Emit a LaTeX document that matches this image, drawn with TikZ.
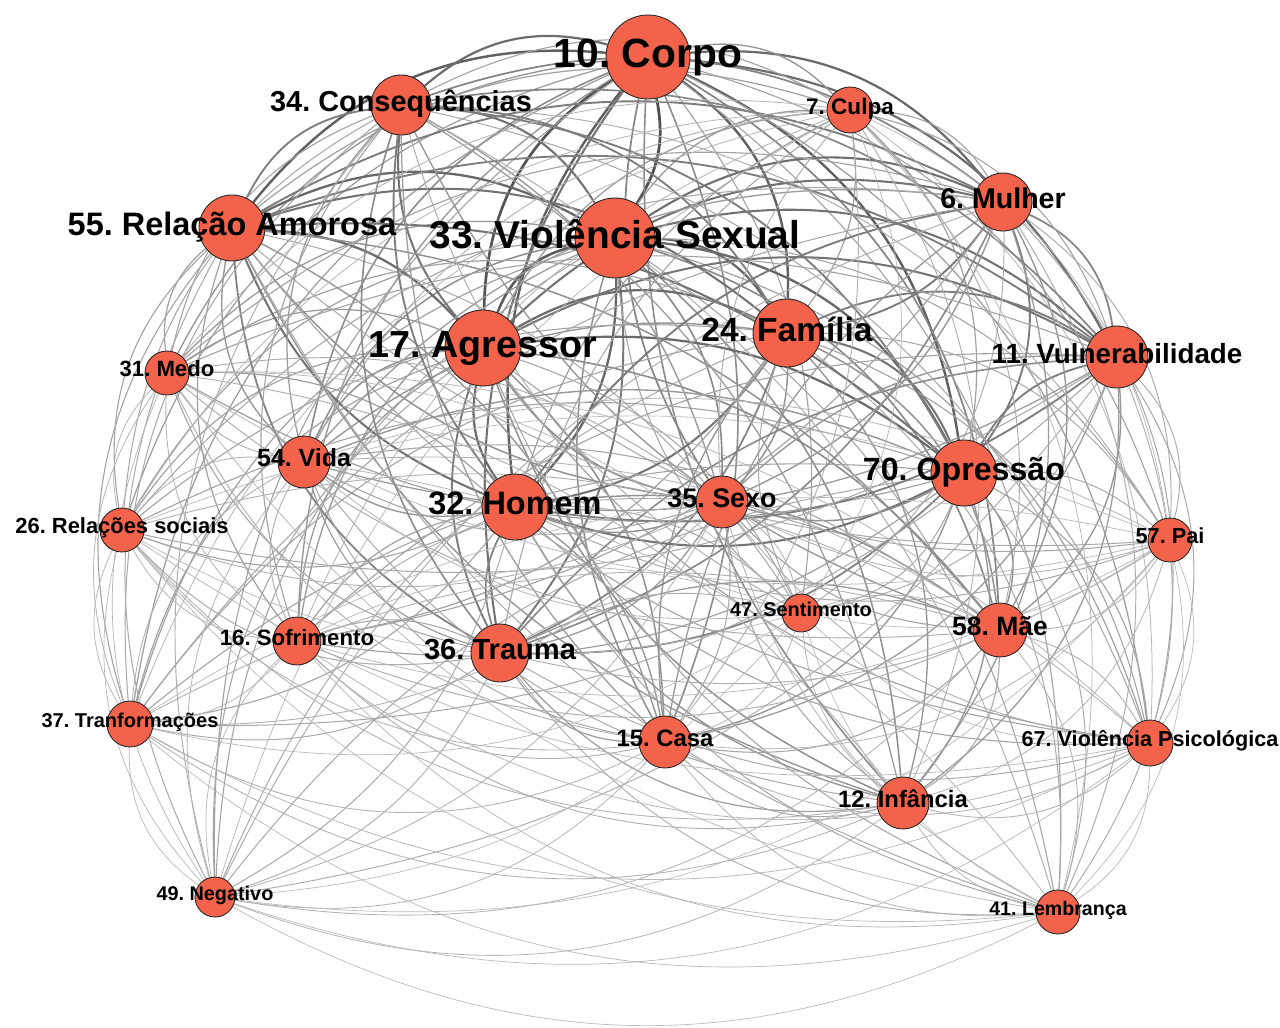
\documentclass[tikz,border=0pt]{standalone}
\usepackage{fontspec}
\setmainfont{Liberation Sans}
\frenchspacing
\definecolor{nodefill}{RGB}{243,98,74}
\pgfdeclarelayer{edges}
\pgfsetlayers{edges,main}
\tikzset{
  vtx/.style={circle, fill=nodefill, draw=black!85, line width=0.5pt, inner sep=0pt},
  lbl/.style={inner sep=0pt, text=black, anchor=base}
}
\def\nodelist{corpo/648/57/42/1.0,vs/615/238/40/0.93,agr/483/348/38/0.9,fam/787/333/34/0.8,rel/232/228/33/0.8,opr/964/473/33/0.8,hom/515/507/33/0.8,mulher/1003/202/29/0.72,vul/1117/357/31/0.7,cons/401/105/30/0.7,trauma/500/653/29/0.65,mae/1000/630/27/0.5,sexo/722/502/26/0.5,casa/665/742/26/0.45,inf/903/803/26/0.45,vida/304/462/26/0.45,sof/297/641/24/0.35,transf/130/724/23/0.3,vpsi/1150/743/23/0.3,culpa/850/110/23/0.35,medo/167/373/22/0.35,relsoc/122/530/22/0.3,pai/1170/540/22/0.25,neg/215/897/20/0.25,lemb/1058/912/22/0.25,sent/801/613/19/0.25}
\begin{document}
\begin{tikzpicture}[x=0.02cm,y=-0.02cm]
\useasboundingbox (0,0) rectangle (1280,1027);
% nodes
\foreach \n/\x/\y/\r/\s in \nodelist {
  \node[vtx, minimum size=\r*0.04cm] (\n) at (\x,\y) {};
}
% edges
\begin{pgfonlayer}{edges}
\fill[white] (0,0) rectangle (1280,1027);
\foreach \a/\xa/\ya/\ra/\sa [count=\i] in \nodelist {
  \foreach \b/\xb/\yb/\rb/\sb [count=\j] in \nodelist {
    \ifnum\j>\i
      \pgfmathsetmacro\p{\sa*\sb}
      \pgfmathsetmacro\cr{((\xb-\xa)/100)*((520-\ya)/100)-((\yb-\ya)/100)*((640-\xa)/100)}
      \pgfmathsetmacro\len{veclen((\xb-\xa)/100,(\yb-\ya)/100)}
      \pgfmathsetmacro\dd{abs(\cr)/\len}
      \pgfmathsetmacro\pty{mod(\i+\j,2)}
      \pgfmathsetmacro\ang{\dd<1.6 ? (\pty>0.5 ? 22 : -22) : (\cr>0 ? 28 : -28)}
      \pgfmathsetmacro\w{0.3+1.35*\p}
      \pgfmathsetmacro\c{24+48*\p}
      \draw[draw=black!\c, line width=\w pt] (\a) to[bend left=\ang] (\b);
    \fi
  }
}
\end{pgfonlayer}
% labels
\foreach \n/\f/\t in {corpo/41/{10. Corpo},vs/39/{33. Violência Sexual},agr/37.8/{17. Agressor},fam/33.6/{24. Família},rel/32.6/{55. Relação Amorosa},opr/32.3/{70. Opressão},hom/32.6/{32. Homem},mulher/28.7/{6. Mulher},vul/27.9/{11. Vulnerabilidade},cons/29/{34. Consequências},trauma/29.2/{36. Trauma},mae/26.6/{58. Mãe},sexo/27/{35. Sexo},casa/23.9/{15. Casa},inf/23.9/{12. Infância},vida/25/{54. Vida},sof/22.3/{16. Sofrimento},transf/20.1/{37. Tranformações},vpsi/21.7/{67. Violência Psicológica},culpa/22.6/{7. Culpa},medo/22.2/{31. Medo},relsoc/22/{26. Relações sociais},pai/21.8/{57. Pai},neg/19.9/{49. Negativo},lemb/19.7/{41. Lembrança},sent/20/{47. Sentimento}} {
  \pgfmathsetmacro\fp{\f*0.567}
  \pgfmathsetmacro\dy{(0.36*\f-4)*0.567}
  \node[lbl, font=\bfseries\fontsize{\fp}{\fp}\selectfont] (\n-t) at ([yshift=-\dy pt]\n.center) {\t};
}
\end{tikzpicture}
\end{document}
